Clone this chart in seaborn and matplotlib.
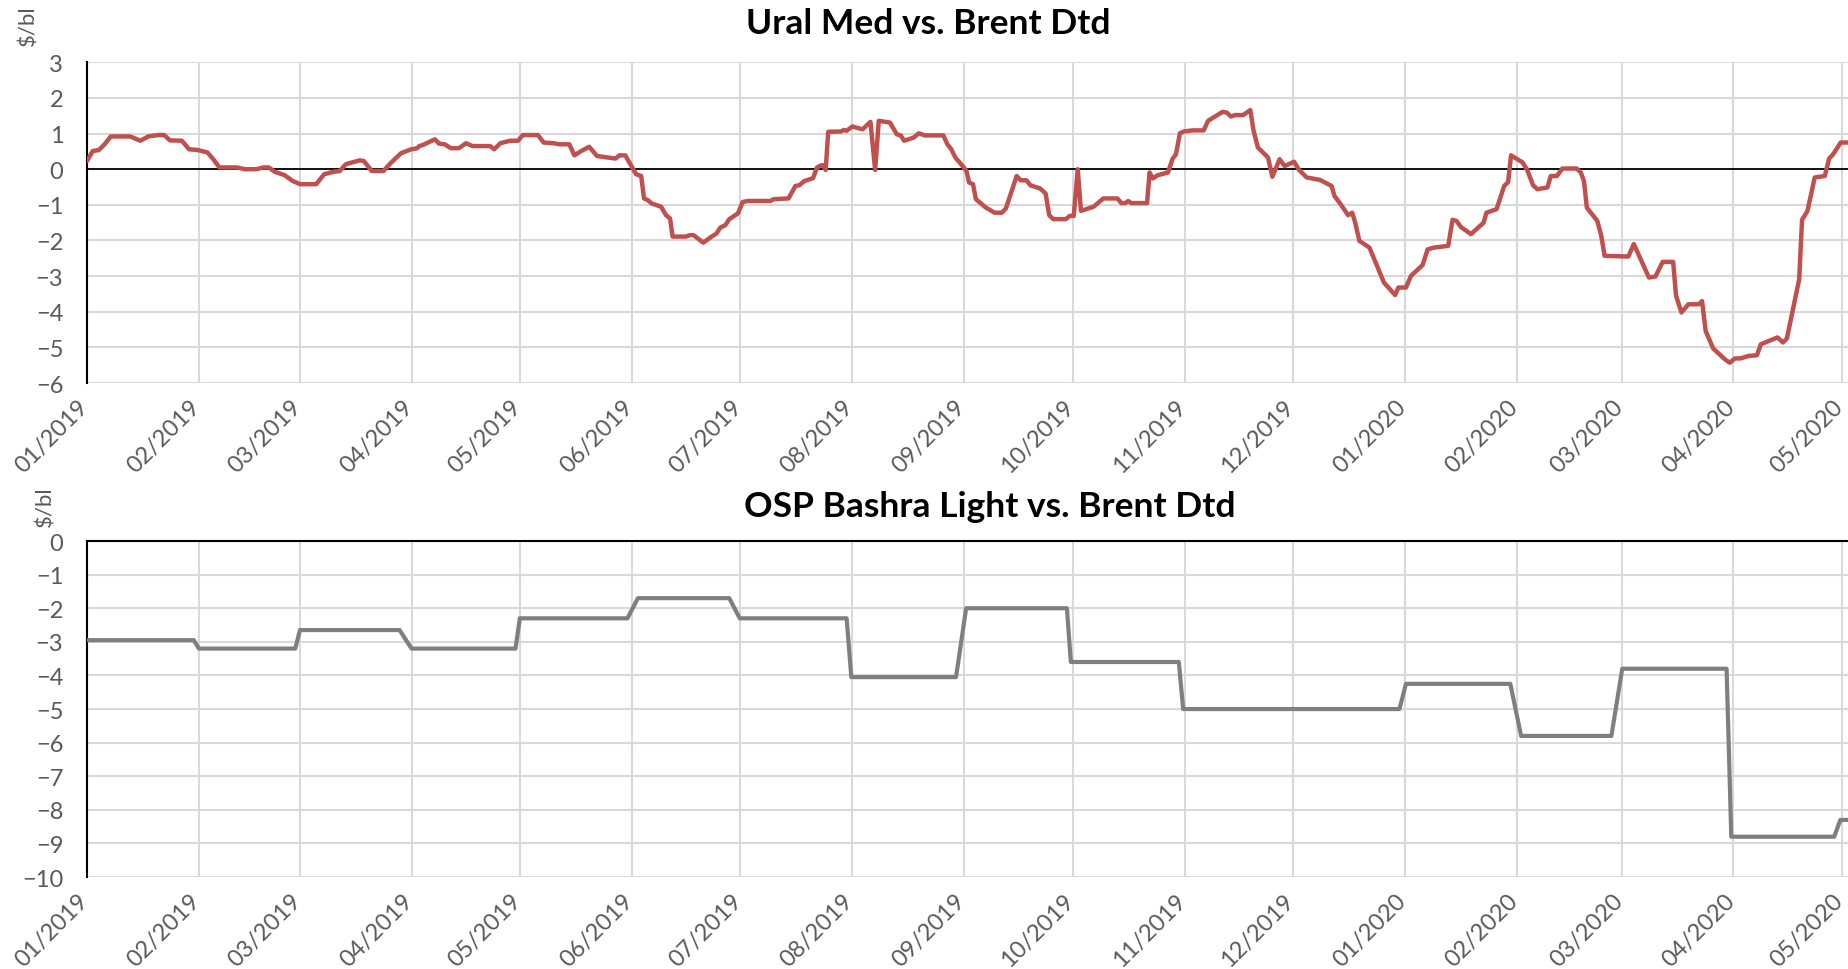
import pandas as pd
import matplotlib
matplotlib.use("Agg")
import matplotlib.pyplot as plt
import matplotlib.dates as mdates
from matplotlib.transforms import ScaledTranslation
import seaborn as sns

START = pd.Timestamp("2019-01-01")

# Ural Med vs. Brent Dtd ($/bl), days counted from 01/01/2019
ural_day = [
    0, 1.6, 3.3, 4.9, 6.6, 12, 14.8, 17, 19.7, 21.4, 23, 26.3, 28.3, 30.7, 33.4,
    35, 36.7, 41.6, 43.8, 47, 48.7, 50.4, 52, 54.8, 57, 59.1, 63.5, 65.7, 68.4,
    70, 71.7, 73.4, 75.6, 76.7, 78.9, 82.1, 84.3, 87, 89.8, 91.5, 92, 93, 96.4,
    97.5, 99.1, 100.8, 103, 105, 106.8, 111.7, 112.8, 114.5, 117.2, 119.4, 120.7,
    124.9, 126.5, 129.2, 130.9, 133.6, 135, 136.9, 139.1, 141.3, 146.4, 147.5,
    149.1, 150.8, 152.1, 153.5, 154.3, 155.4, 156.4, 159, 160.4, 161.5, 162.2,
    165.9, 167, 168, 170.7, 173, 174.3, 175.4, 176.8, 177.9, 180.3, 181.6, 183,
    189.3, 190.2, 194.3, 196.2, 197.3, 198.7, 201.1, 202.2, 203.3, 203.9, 204.6,
    205.3, 208.8, 209.6, 210.4, 212, 214.8, 217, 218.3, 219.3, 222.4, 224.3,
    225.4, 226.3, 229, 230.4, 232, 237.2, 238.3, 239.4, 240.5, 242.1, 243.6,
    244.3, 245.4, 246.2, 249, 251.4, 253.4, 254.5, 257.5, 258.6, 260.2, 261.3,
    264, 265.5, 266.5, 267.6, 271.1, 272.2, 273.3, 274.4, 275.3, 278.8, 281.5,
    285.4, 286.5, 287.6, 288.4, 289.2, 293.6, 294.3, 295.2, 296.5, 299.4, 300.7,
    301.6, 302.7, 303.8, 306.2, 309.3, 310.5, 314.5, 315.7, 316.8, 317.9, 320.2,
    322.2, 323.1, 324.3, 327.1, 328.3, 330.3, 331.7, 334.3, 335.7, 337.8, 341.5,
    344.7, 345.5, 347.2, 349.3, 350.4, 351.2, 352.4, 355.2, 359.2, 362.3, 363.2,
    365.3, 366.7, 369.9, 371.3, 373, 377, 378.2, 379.3, 380.5, 383.3, 386.8,
    387.6, 390.4, 392.5, 393.6, 394.4, 397.6, 398.8, 400.5, 401.7, 404.5, 405.4,
    407.1, 408.6, 412.6, 413.7, 414.6, 415.4, 418.3, 419.4, 420.3, 426.9, 428.4,
    432.6, 434.4, 436.4, 439.3, 440.1, 441.6, 443.5, 446.4, 447.3, 448.3, 450.4,
    453.8, 455, 456.4, 457.9, 460.2, 462.5, 463.6, 468.2, 469.7, 470.8, 471.9,
    474.2, 475, 476.5, 478.5, 481.3, 482.5, 483.6, 485.7, 488,
]
ural_value = [
    0.23, 0.51, 0.54, 0.70, 0.92, 0.92, 0.80, 0.92, 0.96, 0.96, 0.81, 0.80, 0.56, 0.54, 0.47,
    0.28, 0.05, 0.05, 0.0, 0.0, 0.05, 0.05, -0.07, -0.17, -0.33, -0.42, -0.42, -0.14, -0.07,
    -0.05, 0.14, 0.19, 0.25, 0.23, -0.05, -0.05, 0.19, 0.45, 0.56, 0.59, 0.65, 0.68, 0.84,
    0.72, 0.70, 0.59, 0.59, 0.73, 0.65, 0.65, 0.56, 0.73, 0.80, 0.80, 0.96,
    0.96, 0.75, 0.73, 0.70, 0.70, 0.39, 0.51, 0.63, 0.37, 0.30, 0.39,
    0.39, 0.09, -0.14, -0.19, -0.82, -0.87, -0.96, -1.05, -1.29, -1.38, -1.89,
    -1.89, -1.85, -1.85, -2.06, -1.89, -1.81, -1.64, -1.57, -1.40, -1.24, -0.92, -0.89,
    -0.89, -0.84, -0.82, -0.47, -0.45, -0.33, -0.25, 0.05, 0.11, 0.11, -0.02,
    1.05, 1.06, 1.10, 1.08, 1.20, 1.12, 1.33, -0.02, 1.36, 1.31, 0.98,
    0.95, 0.80, 0.89, 1.01, 0.95, 0.95, 0.70, 0.56, 0.33, 0.14, -0.05,
    -0.37, -0.42, -0.84, -1.08, -1.22, -1.22, -1.10, -0.19, -0.31, -0.31, -0.45,
    -0.54, -0.68, -1.29, -1.40, -1.40, -1.31, -1.31, 0.0, -1.17, -1.05, -0.82,
    -0.82, -0.95, -0.95, -0.89, -0.95, -0.95, -0.09, -0.26, -0.17, -0.09, 0.30,
    0.42, 1.01, 1.06, 1.09, 1.09, 1.36, 1.61, 1.59, 1.48, 1.52, 1.52,
    1.66, 1.08, 0.61, 0.33, -0.21, 0.28, 0.09, 0.21, -0.02, -0.23, -0.30,
    -0.47, -0.75, -0.98, -1.29, -1.22, -1.48, -2.01, -2.20, -3.18, -3.53, -3.32,
    -3.32, -2.99, -2.69, -2.25, -2.20, -2.15, -1.42, -1.45, -1.62, -1.82, -1.50,
    -1.22, -1.12, -0.47, -0.36, 0.39, 0.19, 0.0, -0.45, -0.56, -0.51, -0.19,
    -0.19, 0.02, 0.02, -0.09, -0.33, -1.08, -1.45, -1.87, -2.43, -2.45, -2.10,
    -3.04, -3.01, -2.60, -2.60, -3.55, -4.02, -3.79, -3.79, -3.70, -4.54, -5.03,
    -5.35, -5.43, -5.31, -5.31, -5.24, -5.22, -4.91, -4.72, -4.86, -4.75, -4.21,
    -3.09, -1.42, -1.17, -0.23, -0.19, 0.30, 0.42, 0.75, 0.75,
]

# OSP Bashra Light vs. Brent Dtd (monthly OSP steps)
bashra_day = [
    0, 29.6, 31, 57.7, 59, 86.6, 89.9, 118.7, 119.9, 149.7, 152.6, 177.9, 180.8,
    210.4, 211.7, 240.7, 243.5, 271.4, 272.5, 302.4, 303.6, 363.5, 365.3, 394.2,
    397.2, 422.2, 425.2, 454.1, 455.4, 483.9, 485.6, 488,
]
bashra_value = [
    -2.95, -2.95, -3.2, -3.2, -2.65, -2.65, -3.2, -3.2, -2.3, -2.3, -1.7, -1.7, -2.3,
    -2.3, -4.05, -4.05, -2.0, -2.0, -3.6, -3.6, -5.0, -5.0, -4.25, -4.25,
    -5.8, -5.8, -3.8, -3.8, -8.8, -8.8, -8.3, -8.3,
]

ural = pd.DataFrame({"date": START + pd.to_timedelta(ural_day, unit="D"), "value": ural_value})
bashra = pd.DataFrame({"date": START + pd.to_timedelta(bashra_day, unit="D"), "value": bashra_value})
month_ticks = pd.date_range("2019-01-01", "2020-05-01", freq="MS")

sns.set_theme(style="whitegrid")
plt.rcParams["font.family"] = ["Lato", "DejaVu Sans"]

GRID = "#d9d9d9"
TEXT = "#595959"

fig = plt.figure(figsize=(18.49, 9.70), dpi=100)
ax1 = fig.add_axes([0.047, 0.6041, 0.953, 0.3306])
ax2 = fig.add_axes([0.047, 0.0948, 0.953, 0.3464])


def style_axis(ax, ylim, yticks):
    ax.set_xlim(START, START + pd.Timedelta(days=488))
    ax.set_ylim(*ylim)
    ax.set_yticks(yticks)
    ax.set_xticks(month_ticks)
    ax.xaxis.set_major_formatter(mdates.DateFormatter("%m/%Y"))
    ax.grid(True, color=GRID, linewidth=1.5)
    ax.set_axisbelow(True)
    for s in ax.spines.values():
        s.set_visible(False)
    ax.spines["left"].set_visible(True)
    ax.spines["left"].set_color("black")
    ax.spines["left"].set_linewidth(1.5)
    ax.tick_params(axis="y", length=0, labelsize=17, labelcolor=TEXT, pad=17)
    ax.tick_params(axis="x", length=0, labelsize=17, labelcolor=TEXT, pad=9)
    shift = ScaledTranslation(-7 / 72, 0, fig.dpi_scale_trans)
    for lbl in ax.get_xticklabels():
        lbl.set_rotation(45)
        lbl.set_ha("right")
        lbl.set_rotation_mode("anchor")
        lbl.set_transform(lbl.get_transform() + shift)
    ax.set_xlabel("")
    ax.set_ylabel("")


sns.lineplot(data=ural, x="date", y="value", ax=ax1, color="#C0504D",
             linewidth=3.2, estimator=None, sort=False, zorder=3)
ax1.axhline(0, color="black", linewidth=1.3, zorder=2)
style_axis(ax1, (-6, 3), range(-6, 4))

sns.lineplot(data=bashra, x="date", y="value", ax=ax2, color="#7F7F7F",
             linewidth=3.0, estimator=None, sort=False, zorder=3)
style_axis(ax2, (-10, 0), range(-10, 1))
ax2.spines["top"].set_visible(True)
ax2.spines["top"].set_color("black")
ax2.spines["top"].set_linewidth(1.5)

fig.text(928 / 1849, 1 - 24 / 970, "Ural Med vs. Brent Dtd", ha="center", va="center",
         fontsize=25.5, fontweight="bold", color="black")
fig.text(990 / 1849, 1 - 507 / 970, "OSP Bashra Light vs. Brent Dtd", ha="center", va="center",
         fontsize=25.5, fontweight="bold", color="black")
fig.text(28 / 1849, 1 - 26 / 970, "$/bl", rotation=90, ha="center", va="center",
         fontsize=16, color=TEXT)
fig.text(45 / 1849, 1 - 507 / 970, "$/bl", rotation=90, ha="center", va="center",
         fontsize=16, color=TEXT)

fig.savefig("out.png", dpi=100, facecolor="white")
